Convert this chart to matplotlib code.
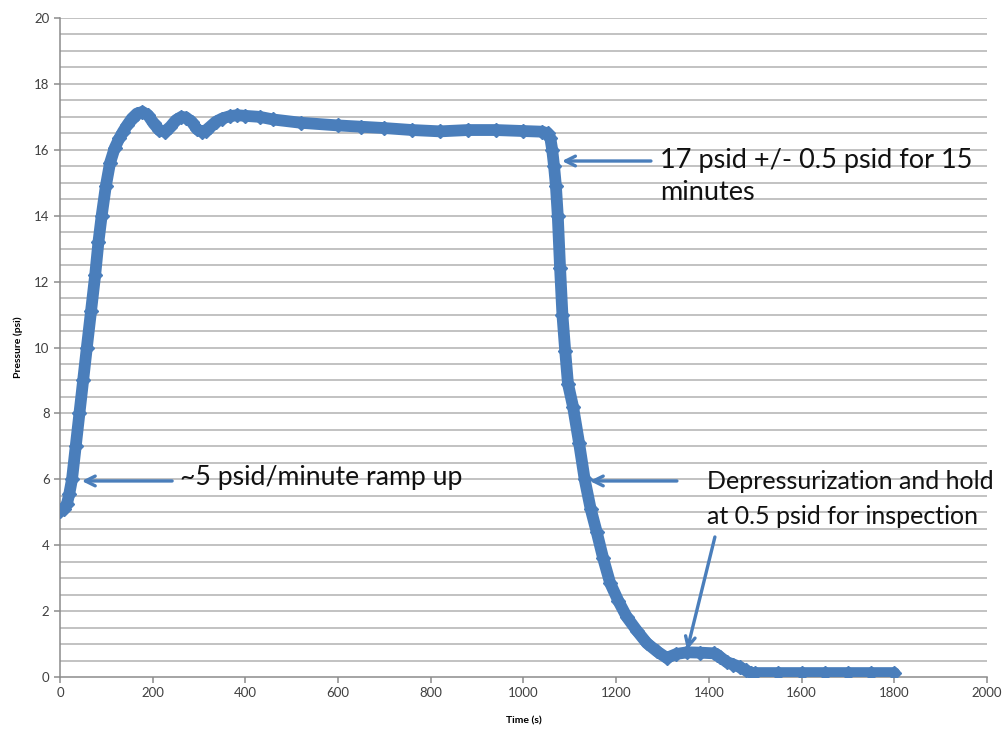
import matplotlib
matplotlib.use("Agg")
import matplotlib.pyplot as plt
import numpy as np

# Pressure test record: time (s) vs differential pressure (psi)
time_s = [0, 8, 15, 20, 26, 34, 42, 50, 58, 67, 76, 83, 90, 99, 108, 118, 128, 136,
          145, 155, 166, 178, 190, 202, 214, 226, 238, 250, 262, 272, 284, 296, 306,
          314, 324, 336, 350, 366, 382, 400, 431, 460, 520, 600, 650, 700, 760, 820,
          880, 940, 1000, 1040, 1052, 1058, 1062, 1066, 1070, 1074, 1079, 1084, 1090,
          1096, 1107, 1120, 1132, 1145, 1158, 1172, 1187, 1205, 1223, 1245, 1266,
          1288, 1309, 1330, 1353, 1380, 1410, 1418, 1425, 1439, 1453, 1467, 1480,
          1490, 1500, 1550, 1600, 1650, 1700, 1750, 1800]
pressure_psi = [5.05, 5.1, 5.25, 5.55, 6.0, 7.0, 8.0, 9.0, 10.0, 11.1, 12.2, 13.2, 14.0,
                14.9, 15.6, 16.05, 16.35, 16.55, 16.75, 16.95, 17.1, 17.15, 17.05, 16.8,
                16.6, 16.55, 16.7, 16.9, 17.0, 16.98, 16.85, 16.62, 16.55, 16.58, 16.7,
                16.85, 16.95, 17.02, 17.05, 17.03, 17.0, 16.92, 16.82, 16.74, 16.7,
                16.66, 16.6, 16.56, 16.6, 16.6, 16.57, 16.55, 16.5, 16.35, 16.0, 15.5,
                14.9, 14.0, 12.4, 11.0, 9.9, 8.9, 8.2, 7.1, 6.0, 5.1, 4.4, 3.6, 2.85,
                2.3, 1.82, 1.4, 1.03, 0.78, 0.58, 0.7, 0.75, 0.74, 0.72, 0.68, 0.6,
                0.45, 0.38, 0.3, 0.2, 0.13, 0.12, 0.12, 0.12, 0.12, 0.12, 0.12, 0.12]

x_ticks = [0, 200, 400, 600, 800, 1000, 1200, 1400, 1600, 1800, 2000]
y_ticks = [0, 2, 4, 6, 8, 10, 12, 14, 16, 18, 20]

blue = "#4a7ebb"
grid_gray = "#b2b2b2"
axis_gray = "#8c8c8c"
text_font = ["Lato", "DejaVu Sans"]

fig = plt.figure(figsize=(10.06, 7.29), dpi=100)
ax = fig.add_axes([0.0596, 0.0713, 0.9215, 0.904])

ax.set_xlim(0, 2000)
ax.set_ylim(0, 20)

# horizontal gridlines every 0.5 psi
for g in np.arange(0.5, 20.01, 0.5):
    ax.axhline(g, color=grid_gray, lw=1.1, zorder=0)

ax.plot(time_s, pressure_psi, color=blue, lw=8.5, solid_joinstyle="round",
        solid_capstyle="round", marker="D", ms=7, mec=blue, mfc=blue, zorder=3)

ax.set_xticks(x_ticks)
ax.set_yticks(y_ticks)
ax.tick_params(axis="both", colors=axis_gray, length=4, width=1.1,
               labelcolor="#404040", labelsize=9.5)
for lab in ax.get_xticklabels() + ax.get_yticklabels():
    lab.set_fontfamily(text_font)

for side in ("top", "right"):
    ax.spines[side].set_visible(False)
for side in ("left", "bottom"):
    ax.spines[side].set_color(axis_gray)
    ax.spines[side].set_linewidth(1.1)

ax.set_xlabel("Time (s)", fontsize=7.5, fontweight="bold", family=text_font,
              labelpad=12)
ax.set_ylabel("Pressure (psi)", fontsize=7.5, fontweight="bold", family=text_font,
              labelpad=8)

arrow_kw = dict(arrowstyle="->,head_length=0.7,head_width=0.35", color=blue, lw=2.4,
                shrinkA=0, shrinkB=0)

def note(x, y, s, size):
    ax.text(x, y, s, fontsize=size, family=text_font, va="center",
            ha="left", color="#111111")

# callouts
ax.annotate("", xy=(1083, 15.66), xytext=(1275, 15.66), arrowprops=arrow_kw)
note(1294, 15.69, "17 psid +/- 0.5 psid for 15", 19.5)
note(1294, 14.69, "minutes", 19.5)

ax.annotate("", xy=(47, 5.95), xytext=(242, 5.95), arrowprops=arrow_kw)
note(259, 6.04, "~5 psid/minute ramp up", 19.2)

ax.annotate("", xy=(1143, 5.95), xytext=(1331, 5.95), arrowprops=arrow_kw)
note(1396, 5.92, "Depressurization and hold", 18)
note(1396, 4.86, "at 0.5 psid for inspection", 18)
ax.annotate("", xy=(1353, 0.82), xytext=(1413, 4.25), arrowprops=arrow_kw)

fig.savefig("out.png", dpi=100)
